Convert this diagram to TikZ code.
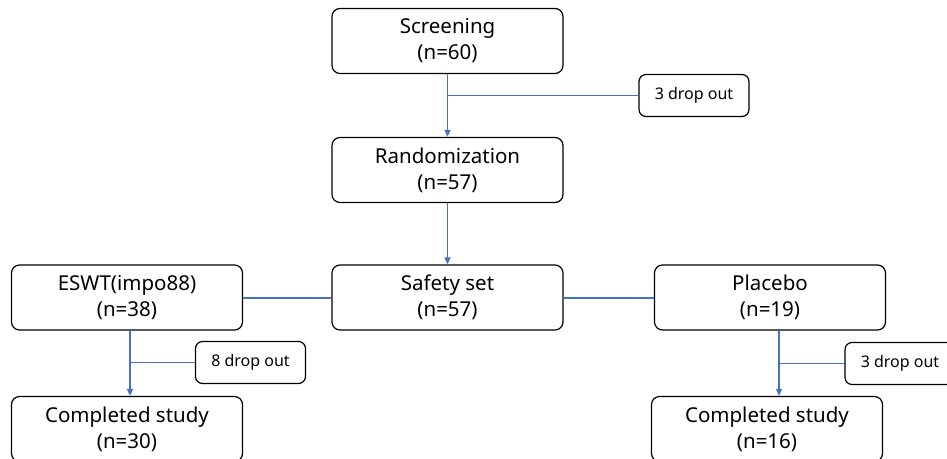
\documentclass[tikz,border=0pt]{standalone}
\usepackage{fontspec}
\setmainfont{Noto Sans}
\usetikzlibrary{arrows.meta}
\definecolor{lineblue}{RGB}{68,114,196}
\tikzset{
  mainbox/.style={draw=black, line width=1.2pt, rounded corners=8pt, fill=white,
    minimum width=231pt, minimum height=65pt, align=center, inner sep=0pt,
    font=\fontsize{20.5}{26}\selectfont},
  dropbox/.style={draw=black, line width=1.2pt, rounded corners=7pt, fill=white,
    minimum width=110pt, minimum height=42pt, align=center, inner sep=0pt,
    font=\fontsize{16}{18}\selectfont},
  flow/.style={draw=lineblue, line width=1.5pt},
  flowarrow/.style={flow, -{Triangle[length=7pt,width=6pt]}},
}
\begin{document}
\begin{tikzpicture}[x=1pt,y=-1pt]
\useasboundingbox (0,0) rectangle (947,458);
\node[mainbox] (scr) at (447.5,41) {Screening\\(n=60)};
\node[mainbox] (rand) at (447.5,170) {Randomization\\(n=57)};
\node[mainbox] (safe) at (447.5,297.5) {Safety set\\(n=57)};
\node[mainbox] (eswt) at (127,297.5) {ESWT(impo88)\\(n=38)};
\node[mainbox] (plac) at (770,297.5) {Placebo\\(n=19)};
\node[mainbox] (compA) at (127,429) {Completed study\\(n=30)};
\node[mainbox] (compB) at (767,429) {Completed study\\(n=16)};
\node[dropbox] (dropS) at (694,95.5) {3 drop out};
\node[dropbox] (dropA) at (250.5,362.5) {8 drop out};
\node[dropbox] (dropB) at (900,363.5) {3 drop out};

\draw[flowarrow] (scr.south) -- (rand.north);
\draw[flow] (dropS.west) -- (dropS.west -| scr.south);
\draw[flowarrow] (rand.south) -- (safe.north);
\draw[flow] ([yshift=-0.5pt]eswt.east) -- ([yshift=-0.5pt]safe.west);
\draw[flow] ([yshift=-0.5pt]safe.east) -- ([yshift=-0.5pt]plac.west);
\coordinate (eswtx) at ([xshift=3pt]eswt.south);
\draw[flowarrow] (eswtx) -- (eswtx |- compA.north);
\draw[flow] (dropA.west) -- (dropA.west -| eswtx);
\coordinate (placx) at ([xshift=9pt]plac.south);
\draw[flowarrow] (placx) -- (placx |- compB.north);
\draw[flow] (dropB.west) -- (dropB.west -| placx);
\end{tikzpicture}
\end{document}
